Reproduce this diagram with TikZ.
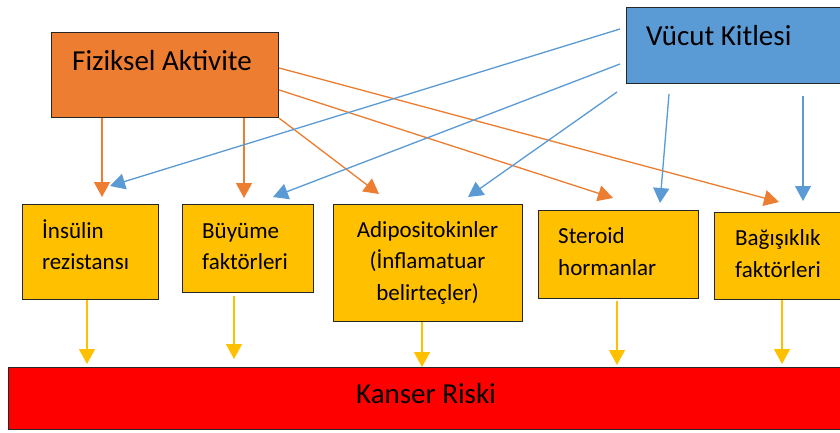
\documentclass[tikz,border=0pt]{standalone}
\usepackage{fontspec}
\setmainfont{Carlito}
\usetikzlibrary{arrows.meta}
\definecolor{corange}{HTML}{ED7D31}
\definecolor{cblue}{HTML}{5B9BD5}
\definecolor{cyellow}{HTML}{FFC000}
\definecolor{cred}{HTML}{FF0000}
\definecolor{cborder}{HTML}{262626}
\tikzset{
  box/.style={draw=cborder, line width=1.2pt, rectangle, inner sep=0pt, anchor=north west},
  big/.style={anchor=base west, inner sep=0pt, font=\fontsize{29}{35}\selectfont},
  small/.style={anchor=base west, inner sep=0pt, font=\fontsize{23}{28}\selectfont},
  smallc/.style={anchor=base, inner sep=0pt, font=\fontsize{23}{28}\selectfont},
  oarr/.style={draw=corange, line width=1.3pt, -{Triangle[width=16pt,length=15pt]}, fill=corange},
  barr/.style={draw=cblue, line width=1.3pt, -{Triangle[width=16pt,length=15pt]}, fill=cblue},
  yarr/.style={draw=cyellow, line width=1.3pt, -{Triangle[width=16pt,length=15pt]}, fill=cyellow},
}
\begin{document}
\begin{tikzpicture}[x=1pt,y=-1pt]
\useasboundingbox (0,0) rectangle (840,433);
\clip (0,0) rectangle (840,433);
\fill[white] (0,0) rectangle (840,433);

% boxes
\node[box, fill=corange, minimum width=227pt, minimum height=85pt] (fa) at (51,32) {};
\node[box, fill=cblue, minimum width=240pt, minimum height=76pt] (vk) at (626,7) {};
\node[box, fill=cyellow, minimum width=136pt, minimum height=95pt] (ins) at (22,204) {};
\node[box, fill=cyellow, minimum width=131pt, minimum height=88pt] (buy) at (182,204) {};
\node[box, fill=cyellow, minimum width=189pt, minimum height=117pt] (adi) at (333,204) {};
\node[box, fill=cyellow, minimum width=160pt, minimum height=88pt] (ste) at (538,210) {};
\node[box, fill=cyellow, minimum width=140pt, minimum height=87pt] (bag) at (714,212) {};
\node[box, fill=cred, minimum width=850pt, minimum height=62pt] (kr) at (8,367) {};

% texts
\node[big] (tfa) at (72,71) {Fiziksel Aktivite};
\node[big] (tvk) at (646,46) {Vücut Kitlesi};
\node[small] (tins1) at (42,238) {İnsülin};
\node[small] (tins2) at (42,269) {rezistansı};
\node[small] (tbuy1) at (202,238) {Büyüme};
\node[small] (tbuy2) at (202,269) {faktörleri};
\node[smallc] (tadi1) at (427.5,237) {Adipositokinler};
\node[smallc] (tadi2) at (427.5,268) {(İnflamatuar};
\node[smallc] (tadi3) at (427.5,300) {belirteçler)};
\node[small] (tste1) at (558,243) {Steroid};
\node[small] (tste2) at (558,275) {hormanlar};
\node[small] (tbag1) at (735,245) {Bağışıklık};
\node[small] (tbag2) at (735,277) {faktörleri};
\node[anchor=base, inner sep=0pt, font=\fontsize{29}{35}\selectfont] (tkr) at (426,403) {Kanser Riski};

% arrow end coordinates
\coordinate (o1) at (102,197);
\coordinate (o2) at (244,198);
\coordinate (o3) at (379,194);
\coordinate (o4) at (613,198);
\coordinate (o5) at (779,202);
\coordinate (b1) at (110,186);
\coordinate (b2) at (273,197);
\coordinate (b3) at (468,197);
\coordinate (b4) at (660,203);
\coordinate (b5) at (803,201);
\coordinate (y1) at (87,364);
\coordinate (y2) at (234,359);
\coordinate (y3) at (422,367);
\coordinate (y4) at (617,365);
\coordinate (y5) at (782,364);

% orange arrows
\draw[oarr] (102,0 |- fa.south) -- (o1);
\draw[oarr] (244,0 |- fa.south) -- (o2);
\draw[oarr] (fa.south east) -- (o3);
\draw[oarr] (fa.east |- 0,90) -- (o4);
\draw[oarr] (fa.east |- 0,68) -- (o5);

% blue arrows
\draw[barr] (620,29) -- (b1);
\draw[barr] (620,64) -- (b2);
\draw[barr] (617,92) -- (b3);
\draw[barr] (669,94) -- (b4);
\draw[barr] (803,96) -- (b5);

% yellow arrows
\draw[yarr] (87,0 |- ins.south) -- (y1);
\draw[yarr] (234,296) -- (y2);
\draw[yarr] (422,0 |- adi.south) -- (y3);
\draw[yarr] (617,301) -- (y4);
\draw[yarr] (782,0 |- bag.south) -- (y5);
\end{tikzpicture}
\end{document}
